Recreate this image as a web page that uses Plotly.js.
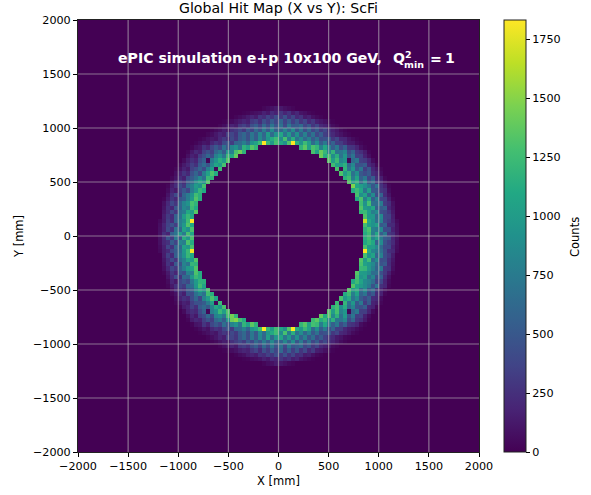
<!DOCTYPE html>
<html>
<head>
<meta charset="utf-8">
<script src="https://cdn.plot.ly/plotly-3.0.1.min.js"></script>
<style>html,body{margin:0;padding:0;background:#fff}</style>
</head>
<body>
<div id="chart" style="width:591px;height:495px"></div>
<script>
const chartTitle = "Global Hit Map (X vs Y): ScFi";
const xTitle = "X [mm]";
const yTitle = "Y [mm]";
const colorbarTitle = "Counts";
const axisTicks = [-2000,-1500,-1000,-500,0,500,1000,1500,2000];
const gridTicks = [-1500,-1000,-500,0,500,1000,1500];
const countTicks = [0,250,500,750,1000,1250,1500,1750];
const binCentres = [];
for (let c = -1980; c <= 1980; c += 40) binCentres.push(c);
const viridis = ["#440154","#482475","#414487","#355f8d","#2a788e","#21918c","#22a884","#44bf70","#7ad151","#bddf26","#fde725"];

// each entry: row centre y, first bin centre x, counts read left to right
const ringTop = [
[1180,-140,[30,60,90,130,120,80,50,25]],
[1140,-340,[15,30,55,80,100,170,120,230,170,290,190,270,140,200,100,75,35,15]],
[1100,-420,[25,55,90,140,190,140,280,230,360,280,430,300,460,260,380,210,270,130,170,85,45,20]],
[1060,-540,[15,30,60,100,150,200,160,310,360,240,440,330,530,380,610,360,550,340,490,290,390,220,300,160,120,85,40,15]],
[1020,-580,[30,65,110,180,140,290,350,260,450,540,360,620,430,720,480,680,410,740,500,530,640,370,500,280,380,210,170,115,55,25]],
[980,-660,[20,50,90,150,120,260,310,410,300,520,380,640,470,760,520,860,560,590,830,590,880,500,740,450,660,390,520,310,400,240,170,120,50,20]],
[940,-700,[30,65,120,190,150,320,380,280,510,610,440,720,520,840,600,1000,640,930,1080,700,980,620,910,560,800,480,680,400,540,340,280,210,140,95,45,20]],
[900,-780,[15,45,90,130,110,210,310,240,410,300,520,610,440,720,520,860,640,950,1120,1240,880,1280,760,1140,690,880,620,800,520,680,430,460,500,290,380,200,190,105,55,20]],
[860,-820,[20,65,110,90,190,280,220,400,470,320,590,640,780,590,930,1050,1240,1832,1230,980,1280,1080,920,1320,1832,1160,940,1240,1030,640,880,540,740,430,570,340,320,210,130,120,50,20]]
];
const ringUpperLeft = [
[820,-860,[25,90,120,260,190,370,510,380,680,490,830,930,700,1170,1050,1340,1200]],
[780,-900,[30,120,210,160,350,450,340,610,730,520,950,800,1300,1420,1180]],
[740,-900,[80,170,130,320,440,610,420,790,930,700,1220,1100,1400]],
[700,-940,[55,150,250,190,420,560,30,750,940,1150,1000,1330]],
[660,-980,[45,130,200,340,250,510,650,480,840,1080,980,1290]],
[620,-1020,[30,90,180,130,350,440,590,420,790,1000,30,1250]],
[580,-1020,[70,170,280,200,450,590,400,780,1040,1300,1120]],
[540,-1060,[30,100,230,160,410,520,660,860,660,1220,1180]],
[500,-1060,[80,190,330,240,510,640,880,1070,920,1330]],
[460,-1100,[30,140,240,410,300,630,780,1000,900,1280]],
[420,-1100,[55,180,130,360,510,380,760,950,1200,1100]],
[380,-1100,[100,250,410,300,610,760,930,1260,1150]],
[340,-1140,[25,140,280,200,490,560,780,980,1320,1140]],
[300,-1140,[80,220,390,280,610,830,930,1280,1180]],
[260,-1140,[100,260,190,490,580,850,780,1240,1110]],
[220,-1140,[120,240,410,300,680,760,1090,1000,1350]],
[180,-1140,[150,310,230,580,680,1000,1210,1090]],
[140,-1180,[45,140,340,240,580,760,880,1250,1832]],
[100,-1180,[70,190,360,460,340,780,970,1320,1090]],
[60,-1180,[80,180,400,280,680,610,1050,920,1300]],
[20,-1180,[90,250,180,560,710,1000,760,1280,1080]]
];
const ringUpperRight = [
[820,220,[1180,1360,1020,1300,1200,790,1090,780,540,740,400,560,280,270,180,70,20]],
[780,340,[1300,1050,1400,1220,860,1190,700,720,830,420,580,300,240,140,25]],
[740,420,[1420,1130,1280,880,1150,690,950,500,700,340,340,170,70]],
[700,500,[1340,1020,1240,820,920,30,630,720,340,310,190,55]],
[660,540,[1260,1050,1020,1160,620,850,460,460,530,220,150,40]],
[620,580,[1300,30,1180,700,950,520,720,330,480,200,120,30]],
[580,620,[1320,1000,1170,680,900,500,420,510,240,180,60]],
[540,660,[1160,1260,760,1060,560,730,370,530,230,150,30]],
[500,700,[1340,1000,1160,640,920,480,640,280,200,70]],
[460,740,[1480,1080,1010,900,730,480,680,270,170,30]],
[420,740,[1120,1240,1100,700,1020,520,490,300,240,55]],
[380,780,[1290,900,1040,620,870,430,580,220,100]],
[340,780,[1100,1310,780,1090,560,780,380,350,150,25]],
[300,820,[1260,920,1280,680,660,750,320,240,80]],
[260,820,[1330,1000,940,1090,560,520,570,190,100]],
[220,820,[1200,1240,1000,780,870,450,400,280,120]],
[180,860,[1310,960,970,640,850,380,350,150]],
[140,860,[1680,1080,920,680,800,400,310,170,45]],
[100,860,[1280,1020,920,1020,500,560,230,210,70]],
[60,860,[1170,1300,800,750,850,420,410,170,80]],
[20,860,[1120,1240,760,1090,540,730,300,240,90]]
];
const ringLowerLeft = [
[-20,-1180,[90,230,480,320,750,500,1140,960,1300]],
[-60,-1180,[80,200,260,530,380,820,780,1300,1120]],
[-100,-1180,[60,160,370,270,610,620,1040,980,1290]],
[-140,-1180,[45,150,220,410,530,680,970,1230,1800]],
[-180,-1140,[140,340,220,560,730,950,1220,1100]],
[-220,-1140,[110,250,400,280,660,800,1040,1000,1330]],
[-260,-1140,[90,270,180,510,460,820,700,1210,1180]],
[-300,-1140,[70,200,370,300,580,780,990,1060,1320]],
[-340,-1140,[25,130,290,190,510,440,800,780,1310,1120]],
[-380,-1100,[100,240,430,280,630,600,970,1230,1130]],
[-420,-1100,[50,190,120,390,480,400,730,990,1180,1160]],
[-460,-1100,[30,130,250,390,320,610,660,970,1260,1060]],
[-500,-1060,[70,200,310,250,490,540,850,1090,920,1300]],
[-540,-1060,[30,90,240,150,440,410,680,820,680,1260,1150]],
[-580,-1020,[60,180,260,210,420,610,380,800,1010,1300,1080]],
[-620,-1020,[30,100,170,140,340,450,460,530,760,1020,30,1240]],
[-660,-980,[40,140,190,350,240,520,620,500,810,1110,960,1300]],
[-700,-940,[50,170,240,200,410,570,30,780,910,1230,1020,1320]],
[-740,-900,[70,190,120,340,420,620,410,810,890,720,1260,1450,1200]],
[-780,-900,[25,140,200,170,340,460,330,620,710,530,930,1420,1500,1280,1120]],
[-820,-860,[20,100,120,280,180,390,500,390,670,500,810,930,690,1190,1030,1360,1180]]
];
const ringLowerRight = [
[-20,860,[1140,1260,840,1020,760,520,460,190,90]],
[-60,860,[1090,1200,1100,580,870,460,340,220,70]],
[-100,860,[1300,1000,1010,860,630,400,390,170,60]],
[-140,860,[1832,1090,840,750,680,440,240,200,45]],
[-180,860,[1280,940,1060,600,800,420,310,140]],
[-220,820,[1340,1000,1250,680,850,430,440,240,110]],
[-260,820,[1300,1040,970,860,630,460,510,230,90]],
[-300,820,[1230,1200,980,800,580,730,300,260,70]],
[-340,780,[1340,1000,990,880,650,660,440,300,150,25]],
[-380,780,[1290,940,1020,660,830,450,560,230,90]],
[-420,740,[1110,1260,1060,870,800,650,380,390,180,50]],
[-460,740,[1340,1090,990,880,750,460,700,250,190,30]],
[-500,700,[1340,1000,1130,660,870,500,620,290,180,70]],
[-540,660,[1120,1250,780,1040,580,700,390,510,220,170,30]],
[-580,620,[1300,980,1130,700,870,520,400,530,230,200,60]],
[-620,580,[1230,30,1200,680,960,500,740,320,500,180,140,30]],
[-660,540,[1170,1280,870,1130,640,830,480,450,540,210,170,35]],
[-700,500,[1330,1000,1280,800,950,30,610,730,330,330,180,50]],
[-740,420,[1400,1100,1330,860,1170,680,970,490,720,330,350,160,60]],
[-780,340,[1240,1360,1120,1230,880,1160,720,700,840,410,590,290,250,130,25]],
[-820,220,[1200,1340,1050,1280,1230,770,1100,760,550,730,410,550,290,260,190,65,20]]
];
const ringBottom = [
[-860,-820,[20,60,120,85,200,270,230,390,480,310,600,630,790,580,940,1040,1260,1832,1200,1000,1260,1100,900,1340,1832,1130,960,1220,1050,630,890,530,750,420,580,330,330,200,140,110,55,20]],
[-900,-780,[15,50,85,135,105,220,300,250,400,310,510,620,430,730,510,870,630,960,1110,1250,870,1290,750,1150,680,890,610,810,510,690,420,470,490,300,370,210,180,115,50,20]],
[-940,-700,[25,70,115,195,145,330,370,290,500,620,430,730,510,850,590,1010,630,940,1070,710,970,630,900,570,790,490,670,410,530,350,270,220,130,100,40,20]],
[-980,-660,[20,45,95,145,125,250,320,400,310,510,390,630,480,750,530,850,570,580,840,580,890,490,750,440,670,380,530,300,410,230,180,115,55,20]],
[-1020,-580,[25,70,105,185,135,300,340,270,440,550,350,630,420,730,470,690,400,750,490,540,630,380,490,290,370,220,160,120,50,25]],
[-1060,-540,[15,25,65,95,155,195,165,300,370,230,450,320,540,370,620,350,560,330,500,280,400,210,310,150,125,80,45,15]],
[-1100,-420,[20,60,85,145,185,145,270,240,350,290,420,310,450,270,370,220,260,140,160,90,40,20]],
[-1140,-340,[15,25,60,75,105,165,125,220,180,280,200,260,150,190,105,70,40,15]],
[-1180,-140,[25,65,85,135,115,85,45,25]]
];

const z = binCentres.map(() => binCentres.map(() => 0));
[ringTop, ringUpperLeft, ringUpperRight, ringLowerLeft, ringLowerRight, ringBottom].forEach(group => {
  group.forEach(([y, x0, vals]) => {
    const r = binCentres.indexOf(y), c0 = binCentres.indexOf(x0);
    vals.forEach((v, i) => { z[r][c0 + i] = v; });
  });
});

const W = 591, H = 495, L = 78, R = 479, T = 20, B = 452;
const px = x => (x - L) / (R - L);
const py = y => (B - y) / (B - T);
const white = {family: "DejaVu Sans", color: "#fff"};
const ann = (text, x, y, size, anchor) => ({
  text: "<b>" + text + "</b>", xref: "paper", yref: "paper", x: px(x), y: py(y),
  xanchor: anchor || "left", yanchor: "middle", showarrow: false,
  font: Object.assign({size: size}, white), borderpad: 0, borderwidth: 0
});
const gridStyle = {color: "rgba(190,190,190,0.6)", width: 1.2};
const shapes = [];
gridTicks.forEach(t => {
  shapes.push({type: "line", layer: "above", xref: "x", yref: "paper", x0: t, x1: t, y0: 0, y1: 1, line: gridStyle});
  shapes.push({type: "line", layer: "above", xref: "paper", yref: "y", x0: 0, x1: 1, y0: t, y1: t, line: gridStyle});
});
const axisCommon = {
  range: [-2000, 2000], tickmode: "array", tickvals: axisTicks, ticks: "outside", ticklen: 4, tickwidth: 1,
  tickcolor: "#000", showline: true, mirror: true, linecolor: "#222", linewidth: 1, showgrid: false, zeroline: false,
  tickfont: {size: 11.2, color: "#000"}
};
Plotly.newPlot("chart", [{
  type: "heatmap", x: binCentres, y: binCentres, z: z, zmin: 0, zmax: 1832, zsmooth: false,
  colorscale: viridis.map((c, i) => [i / (viridis.length - 1), c]),
  colorbar: {
    thickness: 22, thicknessmode: "pixels", len: 1, lenmode: "fraction", x: px(504), xanchor: "left", xpad: 0, ypad: 0,
    y: 0.5, yanchor: "middle", tickmode: "array", tickvals: countTicks, ticks: "outside", ticklen: 4, tickwidth: 1,
    tickcolor: "#000", outlinewidth: 1, outlinecolor: "#222", tickfont: {size: 11.2, color: "#000"}
  }
}], {
  width: W, height: H, margin: {l: L, r: W - R, t: T, b: H - B, pad: 0},
  paper_bgcolor: "#fff", plot_bgcolor: "#440154",
  font: {family: "DejaVu Sans", color: "#000", size: 12},
  title: {text: chartTitle, font: {size: 14.1, color: "#000"}, x: 0.5, xanchor: "center", xref: "paper", y: 1 - 8 / H, yanchor: "middle", yref: "container"},
  xaxis: Object.assign({title: {text: xTitle, font: {size: 11.5, color: "#000"}, standoff: 4}}, axisCommon),
  yaxis: Object.assign({title: {text: yTitle, font: {size: 11.5, color: "#000"}, standoff: 6}}, axisCommon),
  shapes: shapes,
  annotations: [
    ann("ePIC simulation e+p 10x100 GeV,", 118, 58, 14.1),
    ann("Q", 393, 58, 14.1),
    ann("2", 405, 54, 9.5),
    ann("min", 404, 64, 9.5),
    ann("=", 430, 59, 14.1),
    ann("1", 445, 58, 14.1),
    {text: colorbarTitle, xref: "paper", yref: "paper", x: px(575), y: py(237), xanchor: "center", yanchor: "middle",
     textangle: -90, showarrow: false, font: {size: 11.5, color: "#000", family: "DejaVu Sans"}}
  ]
}, {displayModeBar: false, staticPlot: true});
</script>
</body>
</html>
